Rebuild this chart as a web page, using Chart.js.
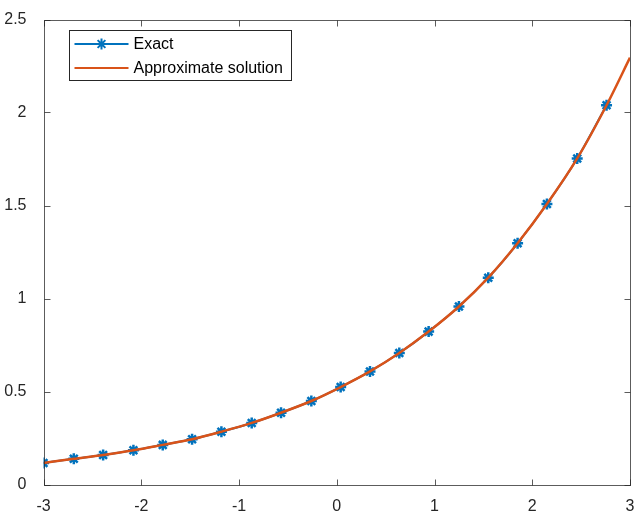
<!DOCTYPE html>
<html>
<head>
<meta charset="utf-8">
<script src="https://cdn.jsdelivr.net/npm/chart.js@4/dist/chart.umd.min.js"></script>
<style>
  html, body { margin: 0; padding: 0; background: #fff; }
  #wrap { width: 638px; height: 517px; }
</style>
</head>
<body>
<div id="wrap"><canvas id="plot" width="638" height="517"></canvas></div>
<script>
// sampled points of the exact solution (the marked curve)
const exactX = [-3, -2.69, -2.39, -2.08, -1.78, -1.48, -1.18, -0.87, -0.57, -0.26,
                0.04, 0.34, 0.64, 0.94, 1.25, 1.55, 1.85, 2.15, 2.46, 2.76];
const exactY = [0.116, 0.138, 0.159, 0.184, 0.213, 0.243, 0.284, 0.331, 0.386, 0.449,
                0.524, 0.608, 0.707, 0.822, 0.957, 1.112, 1.297, 1.508, 1.753, 2.039];

// approximate solution, runs on to the right edge
const approxX = exactX.concat([3]);
const approxY = exactY.concat([2.295]);

const xTicks = [-3, -2, -1, 0, 1, 2, 3];
const yTicks = [0, 0.5, 1, 1.5, 2, 2.5];
const seriesNames = ['Exact', 'Approximate solution'];

const BLUE = '#0072BD';
const ORANGE = '#D95319';
const AXIS = '#262626';
const FONT = '"Liberation Sans", Arial, Helvetica, sans-serif';

function toPoints(xs, ys) {
    return xs.map((x, i) => ({ x: x, y: ys[i] }));
}

// star marker, used for the legend swatch
function drawStar(ctx, cx, cy, r) {
    if (window.Chart && Chart.helpers && Chart.helpers.drawPoint) {
        Chart.helpers.drawPoint(ctx, { pointStyle: 'star', radius: r, rotation: 0, borderWidth: 2.5 }, cx, cy);
        return;
    }
    ctx.beginPath();
    for (let k = 0; k < 4; k++) {
        const a = k * Math.PI / 4;
        ctx.moveTo(cx - r * Math.cos(a), cy - r * Math.sin(a));
        ctx.lineTo(cx + r * Math.cos(a), cy + r * Math.sin(a));
    }
    ctx.stroke();
}

// box with inward ticks on all four sides, plus the framed legend
const frameAndLegend = {
    id: 'frameAndLegend',
    afterDatasetsDraw(chart) {
        const ctx = chart.ctx;
        const a = chart.chartArea;
        const sx = chart.scales.x, sy = chart.scales.y;
        const L = Math.round(a.left) + 0.5, R = Math.round(a.right) + 0.5;
        const T = Math.round(a.top) + 0.5, B = Math.round(a.bottom) + 0.5;
        const tl = 6;

        ctx.save();
        ctx.strokeStyle = AXIS;
        ctx.lineWidth = 1;
        ctx.globalAlpha = 0.75;
        ctx.strokeRect(L, T, R - L, B - T);
        ctx.beginPath();
        yTicks.forEach(v => {
            const py = Math.round(sy.getPixelForValue(v)) + 0.5;
            ctx.moveTo(L, py); ctx.lineTo(L + tl, py);
            ctx.moveTo(R, py); ctx.lineTo(R - tl, py);
        });
        xTicks.forEach(v => {
            const px = Math.round(sx.getPixelForValue(v)) + 0.5;
            ctx.moveTo(px, B); ctx.lineTo(px, B - tl);
            ctx.moveTo(px, T); ctx.lineTo(px, T + tl);
        });
        ctx.stroke();
        ctx.globalAlpha = 1;

        // legend box
        const bx = L + 25, by = T + 10, bw = 222, bh = 50;
        ctx.fillStyle = '#fff';
        ctx.fillRect(bx, by, bw, bh);
        ctx.strokeStyle = AXIS;
        ctx.strokeRect(bx, by, bw, bh);

        const rows = [
            { name: seriesNames[0], color: BLUE, marker: true, y: by + 13.5 },
            { name: seriesNames[1], color: ORANGE, marker: false, y: by + 37.5 }
        ];
        rows.forEach(row => {
            ctx.strokeStyle = row.color;
            ctx.fillStyle = row.color;
            ctx.lineWidth = 2;
            ctx.beginPath();
            ctx.moveTo(bx + 5, row.y);
            ctx.lineTo(bx + 59, row.y);
            ctx.stroke();
            if (row.marker) drawStar(ctx, bx + 32, row.y, 5.5);
            ctx.fillStyle = '#000';
            ctx.font = '16px ' + FONT;
            ctx.textBaseline = 'middle';
            ctx.textAlign = 'left';
            ctx.fillText(row.name, bx + 64, row.y + 1);
        });
        ctx.restore();
    }
};

const tickFont = { family: FONT, size: 16 };

new Chart(document.getElementById('plot'), {
    type: 'line',
    data: {
        datasets: [
            {
                label: seriesNames[0],
                data: toPoints(exactX, exactY),
                borderColor: BLUE,
                backgroundColor: BLUE,
                borderWidth: 2,
                pointStyle: 'star',
                pointRadius: 5.5,
                pointBorderWidth: 2.5,
                pointBorderColor: BLUE,
                pointBackgroundColor: BLUE,
                cubicInterpolationMode: 'monotone',
                order: 2
            },
            {
                label: seriesNames[1],
                data: toPoints(approxX, approxY),
                borderColor: ORANGE,
                backgroundColor: ORANGE,
                borderWidth: 2.5,
                pointRadius: 0,
                cubicInterpolationMode: 'monotone',
                order: 1
            }
        ]
    },
    options: {
        responsive: false,
        animation: false,
        events: [],
        layout: { padding: { left: 0, right: 6.5, top: 19.5, bottom: 0 } },
        plugins: {
            legend: { display: false },
            tooltip: { enabled: false }
        },
        scales: {
            x: {
                type: 'linear',
                min: -3,
                max: 3,
                afterBuildTicks: s => { s.ticks = xTicks.map(v => ({ value: v })); },
                afterFit: s => {
                    s.height = 32.5;
                    s.paddingLeft = 0;
                    s.paddingRight = 0;
                },
                grid: { display: false },
                border: { display: false },
                ticks: {
                    color: AXIS,
                    font: tickFont,
                    padding: 4,
                    maxRotation: 0,
                    callback: v => String(v)
                }
            },
            y: {
                type: 'linear',
                min: 0,
                max: 2.5,
                afterBuildTicks: s => { s.ticks = yTicks.map(v => ({ value: v })); },
                afterFit: s => {
                    s.width = 43.5;
                    s.paddingTop = 0;
                    s.paddingBottom = 0;
                },
                grid: { display: false },
                border: { display: false },
                ticks: {
                    color: AXIS,
                    font: tickFont,
                    padding: 9,
                    callback: v => String(v)
                }
            }
        }
    },
    plugins: [frameAndLegend]
});
</script>
</body>
</html>
